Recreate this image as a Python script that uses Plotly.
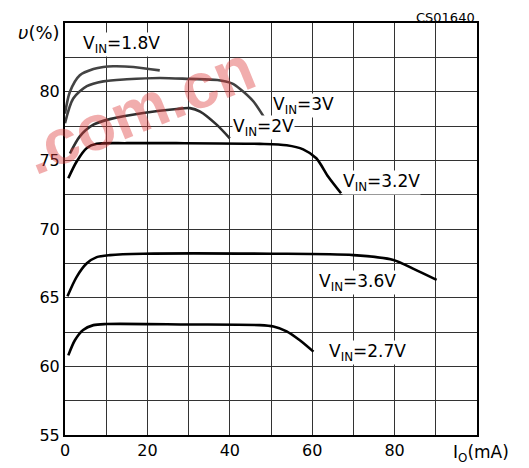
import plotly.graph_objects as go

# ---- data ----
io_18 = [0, 1.2, 3.6, 6.9, 9.3, 11.7, 16.6, 23]
eff_18 = [78.4, 80.0, 81.2, 81.65, 81.8, 81.85, 81.8, 81.55]

io_30 = [0, 2.0, 5.3, 9.3, 15, 23, 30.3, 37, 40.5, 42.5, 45.7, 49]
eff_30 = [77.7, 79.5, 80.4, 80.75, 80.9, 81.0, 80.93, 80.85, 80.6, 80.2, 79.3, 77.8]

io_20 = [1.2, 3.6, 6.9, 10.9, 19, 27.1, 30.3, 32.8, 36.8, 40]
eff_20 = [75.5, 76.75, 77.6, 78.0, 78.45, 78.74, 78.8, 78.55, 77.6, 76.6]

io_32 = [0.8, 2.8, 5.3, 7.7, 15, 27, 47.3, 53.8, 57.8, 61, 63.9, 67]
eff_32 = [73.7, 74.9, 75.9, 76.2, 76.25, 76.25, 76.2, 76.1, 75.8, 75.15, 73.8, 72.6]

io_36 = [0.6, 2.8, 5.3, 7.7, 10.9, 19, 50, 70, 79.7, 84.6, 90.2]
eff_36 = [65.1, 66.5, 67.5, 67.95, 68.1, 68.2, 68.2, 68.1, 67.75, 67.1, 66.3]

io_27 = [0.8, 2.4, 4.4, 6.9, 10.1, 30, 47.3, 50.6, 53.8, 57, 60.3]
eff_27 = [60.8, 61.9, 62.65, 63.0, 63.08, 63.05, 63.0, 62.9, 62.55, 61.9, 61.07]

curves = [
    ("1.8V", io_18, eff_18, "#444444"),
    ("3V", io_30, eff_30, "#404040"),
    ("2V", io_20, eff_20, "#303030"),
    ("3.2V", io_32, eff_32, "#000000"),
    ("3.6V", io_36, eff_36, "#000000"),
    ("2.7V", io_27, eff_27, "#000000"),
]

# label anchors (left edge x, centre y) in data units
label_names = ["1.8V", "3V", "2V", "3.2V", "3.6V", "2.7V"]
label_x = [4.2, 50.2, 40.6, 67.3, 61.4, 63.8]
label_y = [83.4, 79.0, 77.4, 73.4, 66.1, 61.0]

x_ticks = [0, 20, 40, 60, 80]
x_minor = [10, 30, 50, 70, 90]
y_ticks = [55, 60, 65, 70, 75, 80]
y_minor = [57.5, 62.5, 67.5, 72.5, 77.5, 82.5]

FONT = "DejaVu Sans"

fig = go.Figure()

# watermark (drawn first so curves sit on top)
fig.add_annotation(
    x=0.18, y=0.79, xref="paper", yref="paper", xanchor="center", yanchor="middle",
    text="<b>.com.cn</b>", showarrow=False, textangle=-22,
    font=dict(family="Liberation Sans", size=64, color="rgba(222,60,60,0.42)"))

for name, xs, ys, col in curves:
    fig.add_trace(go.Scatter(
        x=xs, y=ys, mode="lines", name=name,
        line=dict(color=col, width=2.6, shape="spline", smoothing=0.8),
        showlegend=False, hoverinfo="skip"))

for name, lx, ly in zip(label_names, label_x, label_y):
    fig.add_annotation(
        x=lx, y=ly, xref="x", yref="y", xanchor="left", yanchor="middle",
        text="V<sub>IN</sub>=" + name, showarrow=False,
        font=dict(family=FONT, size=17, color="black"),
        bgcolor="white", borderpad=0)

fig.add_annotation(
    x=-0.008, y=0.978, xref="paper", yref="paper", xanchor="right", yanchor="middle",
    text="<i>υ</i>(%)", showarrow=False,
    font=dict(family=FONT, size=18, color="black"))
fig.add_annotation(
    x=1.0, y=1.013, xref="paper", yref="paper", xanchor="right", yanchor="middle",
    text="CS01640", showarrow=False,
    font=dict(family=FONT, size=13, color="black"))
fig.add_annotation(
    x=1.01, y=-0.044, xref="paper", yref="paper", xanchor="center", yanchor="middle",
    text="I<sub>O</sub>(mA)", showarrow=False,
    font=dict(family=FONT, size=17, color="black"))

fig.update_xaxes(
    range=[0, 100], tickvals=x_ticks, ticktext=[str(v) for v in x_ticks],
    showgrid=True, gridcolor="#333333", gridwidth=1,
    minor=dict(tickvals=x_minor, showgrid=True, gridcolor="#333333", gridwidth=1, ticks=""),
    showline=True, linecolor="black", linewidth=2, mirror=True,
    ticks="", zeroline=False,
    tickfont=dict(family=FONT, size=16, color="black"))
fig.update_yaxes(
    range=[55, 85], tickvals=y_ticks, ticktext=[str(v) for v in y_ticks],
    showgrid=True, gridcolor="#333333", gridwidth=1,
    minor=dict(tickvals=y_minor, showgrid=True, gridcolor="#333333", gridwidth=1, ticks=""),
    showline=True, linecolor="black", linewidth=2, mirror=True,
    ticks="", zeroline=False,
    tickfont=dict(family=FONT, size=16, color="black"))

# margins compensate for the page's default 8px body margin
fig.update_layout(
    width=529, height=468,
    margin=dict(l=57, r=60, t=15, b=41, autoexpand=False),
    paper_bgcolor="white", plot_bgcolor="white",
    showlegend=False)

fig.write_html("out.html")
